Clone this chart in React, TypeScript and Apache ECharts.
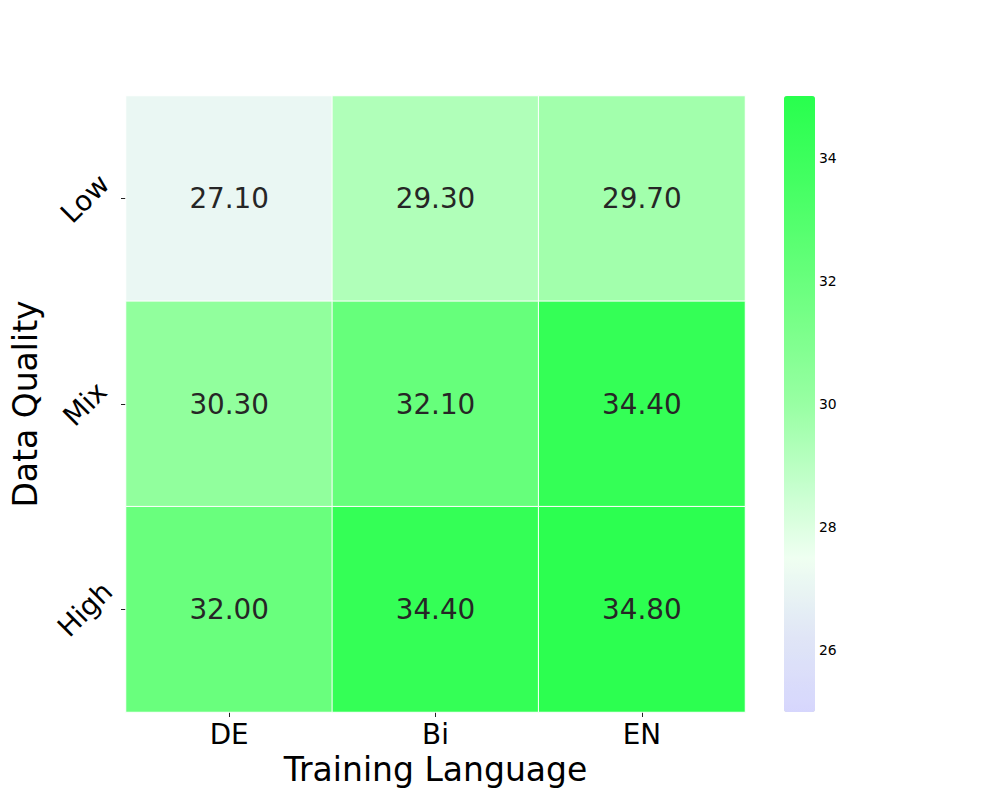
import React, { useEffect, useRef } from "react";
import * as echarts from "echarts";

const languages = ["DE", "Bi", "EN"];
const qualities = ["Low", "Mix", "High"];
const lowValues = [27.1, 29.3, 29.7];
const mixValues = [30.3, 32.1, 34.4];
const highValues = [32.0, 34.4, 34.8];
const colorbarTicks = [26, 28, 30, 32, 34];
const colorStops = [
  "#d6d6fd",
  "#e0e6f6",
  "#effff1",
  "#c2ffca",
  "#98ffa3",
  "#7aff8a",
  "#5dff74",
  "#41ff60",
  "#28ff4d",
];

const FONT = "DejaVu Sans";

export default function App() {
  const ref = useRef<HTMLDivElement>(null);
  useEffect(() => {
    if (!ref.current) return;
    const chart = echarts.init(ref.current, null, { renderer: "svg" });
    const rows = [lowValues, mixValues, highValues];
    const data: [number, number, number][] = [];
    rows.forEach((row, yi) => {
      row.forEach((v, xi) => data.push([xi, yi, v]));
    });
    chart.setOption({
      animation: false,
      backgroundColor: "#ffffff",
      textStyle: { fontFamily: FONT },
      grid: [
        { left: 126, right: 255, top: 96, bottom: 88, show: false },
        { left: 784, width: 31, top: 96, height: 616, show: false },
      ],
      xAxis: [
        {
          type: "category",
          gridIndex: 0,
          data: languages,
          axisLine: { show: false },
          axisTick: { show: true, alignWithLabel: true, length: 5, lineStyle: { color: "#222" } },
          axisLabel: { fontSize: 27.8, color: "#000", margin: 8, fontFamily: FONT },
          splitLine: { show: false },
          name: "Training Language",
          nameLocation: "middle",
          nameGap: 40,
          nameTextStyle: { fontSize: 33, color: "#000", fontFamily: FONT },
        },
        { type: "value", gridIndex: 1, show: false, min: 0, max: 1 },
      ],
      yAxis: [
        {
          type: "category",
          gridIndex: 0,
          data: qualities,
          inverse: true,
          axisLine: { show: false },
          axisTick: { show: true, alignWithLabel: true, length: 5, lineStyle: { color: "#222" } },
          axisLabel: {
            fontSize: 27.8,
            color: "#000",
            rotate: 45,
            align: "center",
            verticalAlign: "middle",
            margin: 41,
            fontFamily: FONT,
          },
          splitLine: { show: false },
          name: "Data Quality",
          nameLocation: "middle",
          nameRotate: 90,
          nameGap: 83,
          nameTextStyle: { fontSize: 33, color: "#000", fontFamily: FONT },
        },
        {
          type: "value",
          gridIndex: 1,
          position: "right",
          min: 25,
          max: 35,
          axisLine: { show: false },
          splitLine: { show: false },
          axisTick: {
            show: true,
            length: 5,
            customValues: colorbarTicks,
            lineStyle: { color: "#222" },
          },
          axisLabel: {
            show: true,
            customValues: colorbarTicks,
            fontSize: 13.9,
            color: "#000",
            margin: 4,
            fontFamily: FONT,
          },
        },
      ],
      visualMap: {
        type: "continuous",
        min: 25,
        max: 35,
        seriesIndex: 0,
        dimension: 2,
        orient: "vertical",
        left: 769,
        top: 81,
        itemWidth: 31,
        itemHeight: 616,
        calculable: false,
        showLabel: false,
        text: ["", ""],
        inRange: { color: colorStops },
      },
      series: [
        {
          type: "heatmap",
          xAxisIndex: 0,
          yAxisIndex: 0,
          data,
          itemStyle: { borderColor: "#ffffff", borderWidth: 1 },
          label: {
            show: true,
            formatter: (p: any) => Number(p.value[2]).toFixed(2),
            fontSize: 27.8,
            color: "#262626",
            fontFamily: FONT,
          },
          emphasis: { disabled: true },
        },
        {
          type: "scatter",
          xAxisIndex: 1,
          yAxisIndex: 1,
          data: [],
        },
      ],
    });
    return () => chart.dispose();
  }, []);
  return (
    <div
      ref={ref}
      style={{ position: "absolute", left: 0, top: 0, width: 1000, height: 800 }}
    />
  );
}
